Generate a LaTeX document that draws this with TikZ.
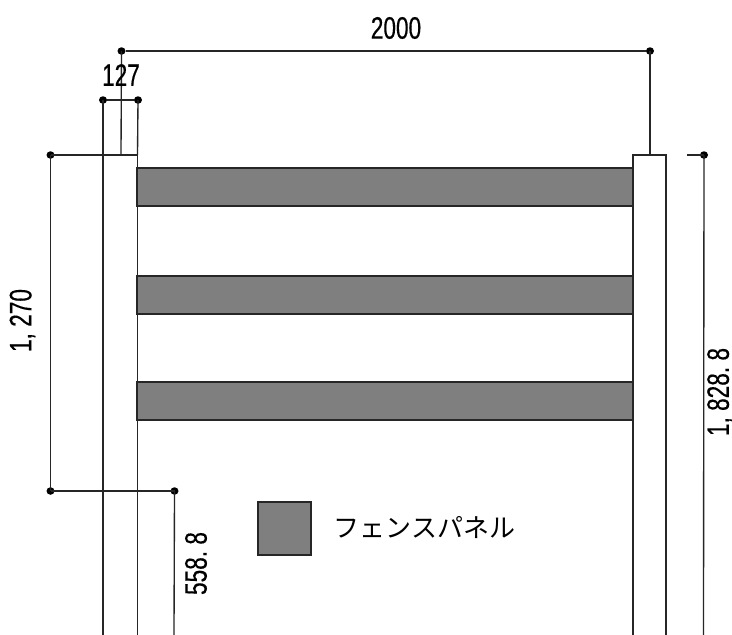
\documentclass[tikz,border=0pt]{standalone}
\usepackage{fontspec}
\setmainfont{Liberation Sans}
\newfontfamily\dimfont[FakeStretch=0.73,FakeBold=0.4]{Liberation Sans}
\newfontfamily\jpfont{Noto Sans CJK JP}
\newcommand{\cmark}{\makebox[12.6pt][l]{,}}
\newcommand{\pmark}{\makebox[12.6pt][l]{.}}
\definecolor{panelgray}{HTML}{7F7F7F}
\definecolor{inkline}{HTML}{262626}
\tikzset{
  ln/.style={draw=inkline,line width=1.35pt},
  panel/.style={draw=inkline,line width=1.6pt,fill=panelgray,inner sep=0pt,outer sep=0pt,rectangle},
  tick/.style={ellipse,fill=black,draw=none,minimum width=8pt,minimum height=7.5pt,inner sep=0pt,outer sep=0pt},
  dimtext/.style={inner sep=0pt,text=black,font=\dimfont\fontsize{31}{31}\selectfont},
}
\usetikzlibrary{shapes.geometric}
\begin{document}
\begin{tikzpicture}[x=1pt,y=-1pt]
\useasboundingbox[fill=white] (0,0) rectangle (732,635);
% posts
\coordinate (lpa) at (103,155); \coordinate (lpb) at (137.5,155);
\coordinate (lpc) at (103,635); \coordinate (lpd) at (137.5,635);
\coordinate (rpa) at (633,155); \coordinate (rpb) at (666,155);
\coordinate (rpc) at (633,635); \coordinate (rpd) at (666,635);
\draw[ln] (lpc) -- (lpa) -- (lpb) -- (lpd);
\draw[ln] (rpc) -- (rpa) -- (rpb) -- (rpd);
% panels
\node[panel,minimum width=496pt,minimum height=37.5pt] (p1) at (385,187) {};
\node[panel,minimum width=496pt,minimum height=37.5pt] (p2) at (385,295) {};
\node[panel,minimum width=496pt,minimum height=37.5pt] (p3) at (385,401) {};
% legend
\node[panel,minimum width=53pt,minimum height=53pt] (leg) at (284.5,528.5) {};
\node[anchor=west,inner sep=0pt,font=\jpfont\fontsize{26}{26}\selectfont] (legt) at (333.5,528) {フェンスパネル};
% ticks
\node[tick] (a1) at (121.5,51) {};
\node[tick] (a2) at (650,51) {};
\node[tick] (b1) at (103,100) {};
\node[tick] (b2) at (138,100) {};
\node[tick] (c1) at (50.5,155) {};
\node[tick] (c2) at (50.5,491) {};
\node[tick] (d1) at (174.5,491) {};
\node[tick] (e1) at (704,155) {};
\coordinate (a1b) at (121,155);
\coordinate (a2b) at (650,155);
\coordinate (d1b) at (174,635);
\coordinate (e1b) at (703.5,635);
\coordinate (e1l) at (687,155);
% connectors
\draw[ln] (a1) -- (a2);
\draw[ln] (a1.center) -- (a1b);
\draw[ln] (a2.center) -- (a2b);
\draw[ln] (b1) -- (b2);
\draw[ln] (b1.center) -- (lpa);
\draw[ln] (b2.center) -- (lpb);
\draw[ln] (c1.center) -- (lpa);
\draw[ln] (c1.center) -- (c2.center);
\draw[ln] (c2.center) -- (d1.center);
\draw[ln] (d1.center) -- (d1b);
\draw[ln] (e1l) -- (e1.center);
\draw[ln] (e1.center) -- (e1b);
% labels
\node[dimtext] (t2000) at (396,28) {2000};
\node[dimtext] (t127) at (121,75) {127};
\node[dimtext,rotate=90] (t1270) at (22.5,320.5) {1\cmark 270};
\node[dimtext,rotate=90] (t5588) at (196,563.5) {558\pmark 8};
\node[dimtext,rotate=90] (t18288) at (720,392) {1\cmark 828\pmark 8};
\end{tikzpicture}
\end{document}
